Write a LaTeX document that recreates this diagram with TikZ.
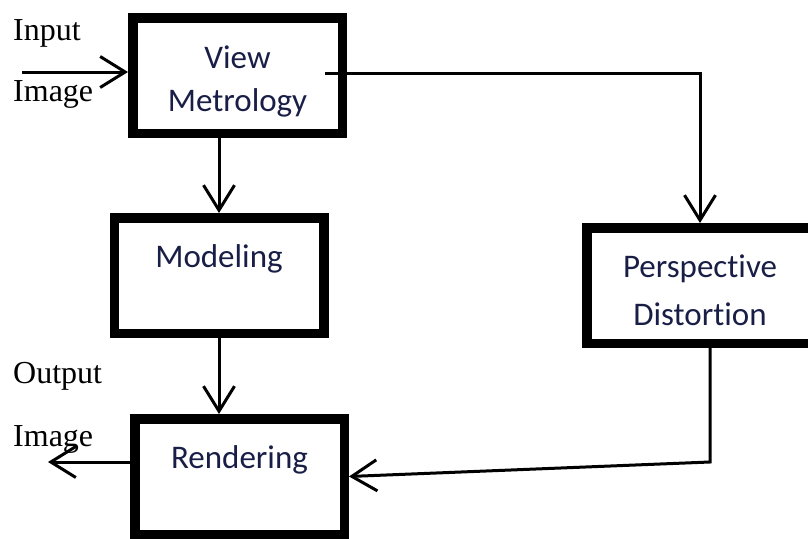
\documentclass[tikz,border=0pt]{standalone}
\usepackage{fontspec}
\setmainfont{Liberation Serif}
\newfontfamily\boxfont[Ligatures=NoCommon]{Carlito}
\usepackage{xcolor}
\usetikzlibrary{arrows.meta, positioning}
\definecolor{boxtext}{RGB}{25,30,70}

\begin{document}
\begin{tikzpicture}[
    x=1pt, y=-1pt,
    block/.style={rectangle, draw, line width=9.5pt, inner sep=0pt, minimum width=209.5pt, text height=50pt, text depth=65.5pt, align=center, text=boxtext, font=\boxfont\fontsize{33}{43}\selectfont},
    arrow/.style={-{Straight Barb[length=25pt, width=31pt]}, line width=3pt},
    iolabel/.style={inner sep=0pt, anchor=base west, font=\fontsize{32}{38}\selectfont}
]
\useasboundingbox (0,0) rectangle (808,538);

% Top layer - view metrology
\node [block, text height=93.25pt, text depth=22.25pt] (view) at (237.5,75.5) {View\\Metrology};

% Second layer - modeling and perspective
\node [block, below=75pt of view, xshift=-18.5pt] (model) {Modeling};
\node [block, minimum width=226.5pt, text height=97.25pt, text depth=18.25pt] (persp) at (700,285.5) {Perspective\\[5pt]Distortion};

% Bottom layer - rendering
\node [block, below=76pt of model, xshift=20.5pt] (render) {Rendering};

% Input and output labels
\node [iolabel] (inlabel) at (13,40.5) {Input};
\node [iolabel] (inimage) at (13,101) {Image};
\node [iolabel] (outlabel) at (13,383) {Output};
\node [iolabel] (outimage) at (13,446) {Image};
\coordinate (in) at (22,72);
\coordinate (out) at (48,462);

% Arrows
\draw [arrow] (in) -- (in -| view.west);
\draw [arrow] ([xshift=-22pt, yshift=2.5pt]view.east) -| (persp.north);
\draw [arrow] (view.south -| model.north) -- (model.north);
\draw [arrow] (model.south) -- (model.south |- render.north);
\draw [arrow] ([yshift=14.5pt]render.west) -- (out);
\draw [arrow] ([xshift=10pt]persp.south) -- ++(0,114) -- (render.east);

\end{tikzpicture}
\end{document}
